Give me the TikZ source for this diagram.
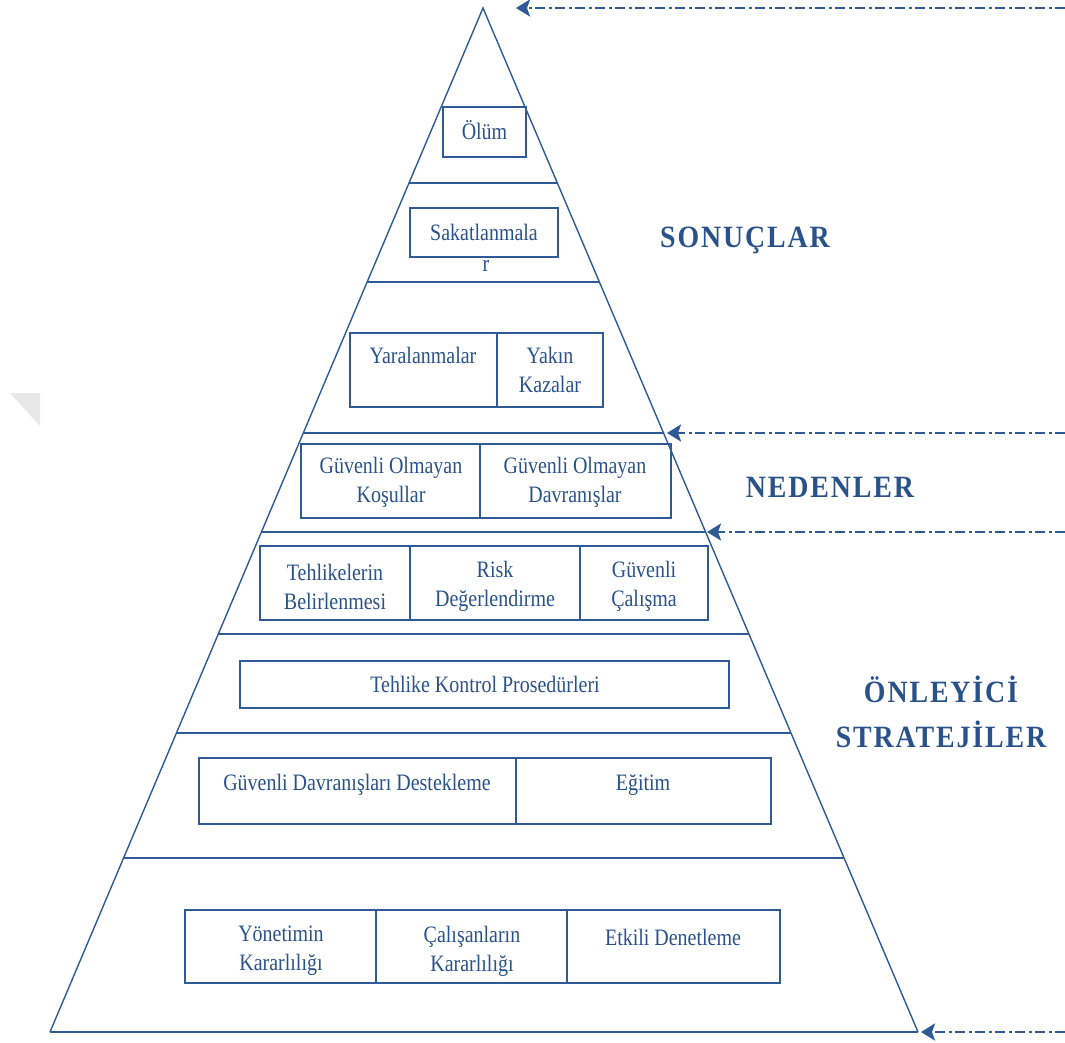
\documentclass[tikz,border=0pt]{standalone}
\usepackage{fontspec}
\setmainfont{Liberation Serif}[FakeStretch=0.85]
\newfontfamily\headfont{Liberation Serif}[FakeStretch=0.9,LetterSpace=6]
\usetikzlibrary{calc,arrows.meta}
\definecolor{pyrblue}{HTML}{2E5A96}
\definecolor{txtblue}{HTML}{2A528A}
\tikzset{
  edge/.style={draw=pyrblue,line width=1.4pt},
  tier/.style={draw=pyrblue,line width=1.8pt},
  cellbox/.style={draw=pyrblue,line width=1.6pt,inner sep=0pt},
  txt/.style={text=txtblue,font=\fontsize{23.5}{29}\selectfont,align=center,inner sep=0pt},
  head/.style={text=txtblue,font=\fontsize{31}{45}\headfont\bfseries,align=center,inner sep=0pt},
  flow/.style={draw=pyrblue,line width=2.6pt,dash pattern=on 10pt off 3.5pt on 3pt off 3.5pt,
    -{Stealth[length=14pt,width=17pt,inset=3pt]}},
}
\begin{document}
\begin{tikzpicture}[x=1pt,y=-1pt]
\useasboundingbox (0,0) rectangle (1065,1042);

% faint corner mark
\fill[black!9] (10,393) -- (40,393) -- (40,426) -- cycle;

% pyramid outline
\coordinate (apex) at (483,8);
\coordinate (bl) at (50,1032);
\coordinate (br) at (918,1032);
\draw[edge] (bl) -- (apex) -- (br);
\draw[tier] (bl) -- (br);

% tier separators
\foreach \t in {0.1709,0.2676,0.4150,0.5117,0.6113,0.7080,0.8301}
  \draw[tier] ($(apex)!\t!(bl)$) -- ($(apex)!\t!(br)$);

% tier 1
\node[cellbox,minimum width=83pt,minimum height=50pt] (olum) at (484.5,132) {};
\node[txt] (tolum) at (484.5,130) {Ölüm};

% tier 2
\node[txt] (tr) at (486,266) {r};
\node[cellbox,fill=white,minimum width=148pt,minimum height=49pt] (sakat) at (484,232.5) {};
\node[txt] (tsakat) at (484,232) {Sakatlanmala};

% tier 3
\node[cellbox,minimum width=147pt,minimum height=74pt] (yara) at (423.5,370) {};
\node[cellbox,minimum width=106pt,minimum height=74pt] (yakin) at (550,370) {};
\node[txt] (tyara) at (423,355) {Yaralanmalar};
\node[txt] (tyakin) at (550,370) {Yakın\\Kazalar};

% tier 4
\node[cellbox,minimum width=179pt,minimum height=74pt] (kosul) at (390.5,481) {};
\node[cellbox,minimum width=191pt,minimum height=74pt] (davr) at (575.5,481) {};
\node[txt] (tkosul) at (391,482.5) {Güvenli Olmayan\\Koşullar};
\node[txt] (tdavr) at (575,482.5) {Güvenli Olmayan\\Davranışlar};

% tier 5
\node[cellbox,minimum width=150pt,minimum height=74pt] (tehl) at (335,583) {};
\node[cellbox,minimum width=170pt,minimum height=74pt] (risk) at (495,583) {};
\node[cellbox,minimum width=128pt,minimum height=74pt] (calis) at (644,583) {};
\node[txt] (ttehl) at (335,586.5) {Tehlikelerin\\Belirlenmesi};
\node[txt] (trisk) at (495,586.5) {Risk\\Değerlendirme};
\node[txt] (tcalis) at (644,586.5) {Güvenli\\Çalışma};

% tier 6
\node[cellbox,minimum width=489pt,minimum height=47pt] (kontrol) at (484.5,684.5) {};
\node[txt] (tkontrol) at (485,684) {Tehlike Kontrol Prosedürleri};

% tier 7
\node[cellbox,minimum width=317pt,minimum height=66pt] (destek) at (357.5,791) {};
\node[cellbox,minimum width=255pt,minimum height=66pt] (egitim) at (643.5,791) {};
\node[txt] (tdestek) at (357,785) {Güvenli Davranışları Destekleme};
\node[txt] (tegitim) at (643,785) {Eğitim};

% tier 8
\node[cellbox,minimum width=191pt,minimum height=73pt] (yonet) at (280.5,946.5) {};
\node[cellbox,minimum width=191pt,minimum height=73pt] (calkar) at (471.5,946.5) {};
\node[cellbox,minimum width=213pt,minimum height=73pt] (denet) at (673.5,946.5) {};
\node[txt] (tyonet) at (281,951) {Yönetimin\\Kararlılığı};
\node[txt] (tcalkar) at (472,951) {Çalışanların\\Kararlılığı};
\node[txt] (tdenet) at (673,937) {Etkili Denetleme};

% side headings
\node[head] (sonuc) at (745,240) {SONUÇLAR};
\node[head] (neden) at (830,487) {NEDENLER};
\node[head] (onley) at (941,712) {ÖNLEYİCİ\\STRATEJİLER};

% incoming dashed arrows
\coordinate (s1) at (1065,8);    \coordinate (e1) at (516,8);
\coordinate (s2) at (1065,433);  \coordinate (e2) at (667,433);
\coordinate (s3) at (1065,532);  \coordinate (e3) at (707,532);
\coordinate (s4) at (1065,1032); \coordinate (e4) at (921,1032);
\draw[flow] (s1) -- (e1);
\draw[flow] (s2) -- (e2);
\draw[flow] (s3) -- (e3);
\draw[flow] (s4) -- (e4);
\end{tikzpicture}
\end{document}
